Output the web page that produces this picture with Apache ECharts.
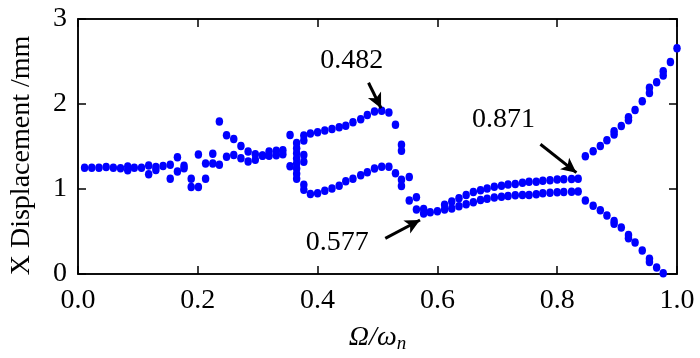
<!DOCTYPE html>
<html>
<head>
<meta charset="utf-8">
<script src="https://cdn.jsdelivr.net/npm/echarts@6/dist/echarts.min.js"></script>
<style>html,body{margin:0;padding:0;background:#fff}#c{width:700px;height:358px}</style>
</head>
<body>
<div id="c"></div>
<script>
// Frequency ratio (x) and X displacement in mm (y)
const xTicks = [0.0, 0.2, 0.4, 0.6, 0.8, 1.0];
const yTicks = [0, 1, 2, 3];

// region 0 - 0.36: first sequence of points
const lowX = [0.011,0.023,0.035,0.047,0.059,0.071,0.083,0.094,0.106,0.118,0.130,0.142,0.154,0.166,0.177,0.189,0.201,0.213,0.225,0.236,0.248,0.260,0.272,0.284,0.296,0.308,0.319,0.331,0.342,0.354];
const lowY = [1.25,1.25,1.25,1.26,1.25,1.245,1.265,1.25,1.25,1.277,1.26,1.27,1.284,1.375,1.275,1.12,1.405,1.30,1.415,1.795,1.633,1.587,1.505,1.44,1.41,1.395,1.44,1.45,1.457,1.635];
// region 0 - 0.36: second values at the same frequency
const low2X = [0.083,0.118,0.130,0.154,0.166,0.177,0.189,0.201,0.213,0.225,0.236,0.248,0.260,0.272,0.284,0.296,0.308,0.319,0.331,0.342,0.354];
const low2Y = [1.22,1.175,1.225,1.122,1.205,1.245,1.023,1.023,1.122,1.30,1.286,1.38,1.40,1.362,1.325,1.345,1.39,1.39,1.398,1.41,1.268];
// scattered column near 0.365 - 0.377
const colX = [0.365,0.365,0.365,0.365,0.365,0.365,0.365,0.365,0.377,0.377,0.377,0.377,0.377,0.377];
const colY = [1.54,1.48,1.42,1.36,1.30,1.24,1.18,1.12,1.63,1.57,1.40,1.32,1.05,0.99];
// period-2 region 0.39 - 0.54
const midX = [0.388,0.400,0.412,0.424,0.436,0.447,0.459,0.472,0.483,0.495,0.507,0.519,0.530,0.540,0.540];
const midUpY = [1.653,1.669,1.688,1.707,1.727,1.745,1.784,1.822,1.872,1.911,1.922,1.90,1.757,1.52,1.45];
const midLowY = [0.942,0.949,0.98,1.007,1.038,1.092,1.122,1.161,1.196,1.242,1.261,1.261,1.184,1.11,1.035];
// transition 0.55 - 0.60
const transX = [0.553,0.553,0.565,0.565,0.577,0.577,0.588,0.600];
const transY = [1.142,0.866,0.903,0.758,0.765,0.712,0.727,0.738];
// two branches 0.61 - 0.835
const twoX = [0.612,0.624,0.636,0.648,0.660,0.672,0.683,0.695,0.707,0.718,0.730,0.742,0.753,0.765,0.776,0.788,0.800,0.811,0.824,0.835];
const twoUpY = [0.815,0.853,0.892,0.93,0.965,0.985,1.007,1.027,1.038,1.053,1.058,1.073,1.084,1.084,1.096,1.104,1.111,1.115,1.119,1.122];
const twoLowY = [0.758,0.77,0.796,0.822,0.845,0.87,0.885,0.9,0.91,0.919,0.926,0.93,0.93,0.938,0.949,0.957,0.961,0.965,0.969,0.972];
// after 0.871 bifurcation
const hiX = [0.847,0.860,0.872,0.883,0.895,0.895,0.907,0.919,0.919,0.930,0.942,0.954,0.954,0.966,0.977,0.977,0.989,1.000];
const hiUpY = [1.385,1.445,1.507,1.575,1.68,1.64,1.74,1.845,1.81,1.93,2.033,2.19,2.13,2.257,2.385,2.335,2.495,2.655];
const hiLowX = [0.847,0.860,0.872,0.883,0.895,0.895,0.907,0.919,0.919,0.930,0.942,0.954,0.954,0.966,0.977];
const hiLowY = [0.865,0.804,0.75,0.689,0.623,0.59,0.546,0.46,0.42,0.37,0.277,0.18,0.14,0.077,0.008];

// annotations: [label, labelX, labelY, arrowFromX, arrowFromY, arrowToX, arrowToY]
const notes = [
  ['0.482', 0.457, 2.507, 0.485, 2.25, 0.506, 1.95],
  ['0.577', 0.433, 0.373, 0.513, 0.419, 0.571, 0.635],
  ['0.871', 0.7105, 1.815, 0.772, 1.526, 0.832, 1.192]
];

function zip(xs, ys) { return xs.map((x, i) => [x, ys[i]]); }
const points = [].concat(
  zip(lowX, lowY), zip(low2X, low2Y), zip(colX, colY),
  zip(midX, midUpY), zip(midX, midLowY), zip(transX, transY),
  zip(twoX, twoUpY), zip(twoX, twoLowY), zip(hiX, hiUpY), zip(hiLowX, hiLowY)
);

const FONT = "'Liberation Serif', 'Times New Roman', serif";
const chart = echarts.init(document.getElementById('c'), null, {renderer: 'canvas'});
function axisCommon() {
  return {
    axisLine: {show: true, onZero: false, lineStyle: {color: '#000', width: 1.5}},
    axisTick: {show: true, inside: true, length: 8, lineStyle: {color: '#000', width: 1.5}},
    splitLine: {show: false}
  };
}
chart.setOption({
  animation: false,
  backgroundColor: '#fff',
  grid: {left: 69, right: 23, top: 19, bottom: 79, containLabel: false,
    show: true, borderColor: '#000', borderWidth: 1.5, backgroundColor: 'transparent'},
  xAxis: [
    Object.assign({
      type: 'value', min: 0, max: 1, interval: 0.2, position: 'bottom',
      name: '{a|Ω/ω}{b|n}', nameLocation: 'middle', nameGap: 48,
      nameTextStyle: {rich: {
        a: {fontFamily: FONT, fontStyle: 'italic', fontSize: 28, color: '#000'},
        b: {fontFamily: FONT, fontStyle: 'italic', fontSize: 19, color: '#000', padding: [12, 0, 0, 0]}
      }},
      axisLabel: {margin: 13, fontFamily: FONT, fontSize: 28, color: '#000',
        formatter: v => xTicks.indexOf(Math.round(v * 10) / 10) >= 0 ? v.toFixed(1) : ''}
    }, axisCommon()),
    Object.assign({type: 'value', min: 0, max: 1, interval: 0.2, position: 'top', axisLabel: {show: false}}, axisCommon())
  ],
  yAxis: [
    Object.assign({
      type: 'value', min: 0, max: 3, interval: 1, position: 'left',
      name: 'X Displacement /mm', nameLocation: 'middle', nameGap: 42, nameRotate: 90,
      nameTextStyle: {fontFamily: FONT, fontSize: 28, color: '#000', padding: [0, 0, 0, -18]},
      axisLabel: {margin: 11, fontFamily: FONT, fontSize: 28, color: '#000',
        formatter: v => yTicks.indexOf(v) >= 0 ? String(v) : ''}
    }, axisCommon()),
    Object.assign({type: 'value', min: 0, max: 3, interval: 1, position: 'right', axisLabel: {show: false}}, axisCommon())
  ],
  series: [{
    type: 'scatter',
    clip: true,
    symbol: 'circle',
    symbolSize: [7.5, 8.5],
    itemStyle: {color: '#0000ff', opacity: 1},
    data: points,
    markLine: {
      silent: true,
      symbol: ['none', 'arrow'],
      symbolSize: [11, 15],
      lineStyle: {color: '#000', width: 3, type: 'solid', opacity: 1},
      label: {show: false},
      data: notes.map(n => [{coord: [n[3], n[4]]}, {coord: [n[5], n[6]]}])
    },
    markPoint: {
      silent: true,
      symbol: 'circle',
      symbolSize: 0,
      label: {show: true, position: 'inside', fontFamily: FONT, fontSize: 28, color: '#000', formatter: p => p.name},
      data: notes.map(n => ({name: n[0], coord: [n[1], n[2]]}))
    }
  }]
});
</script>
</body>
</html>
